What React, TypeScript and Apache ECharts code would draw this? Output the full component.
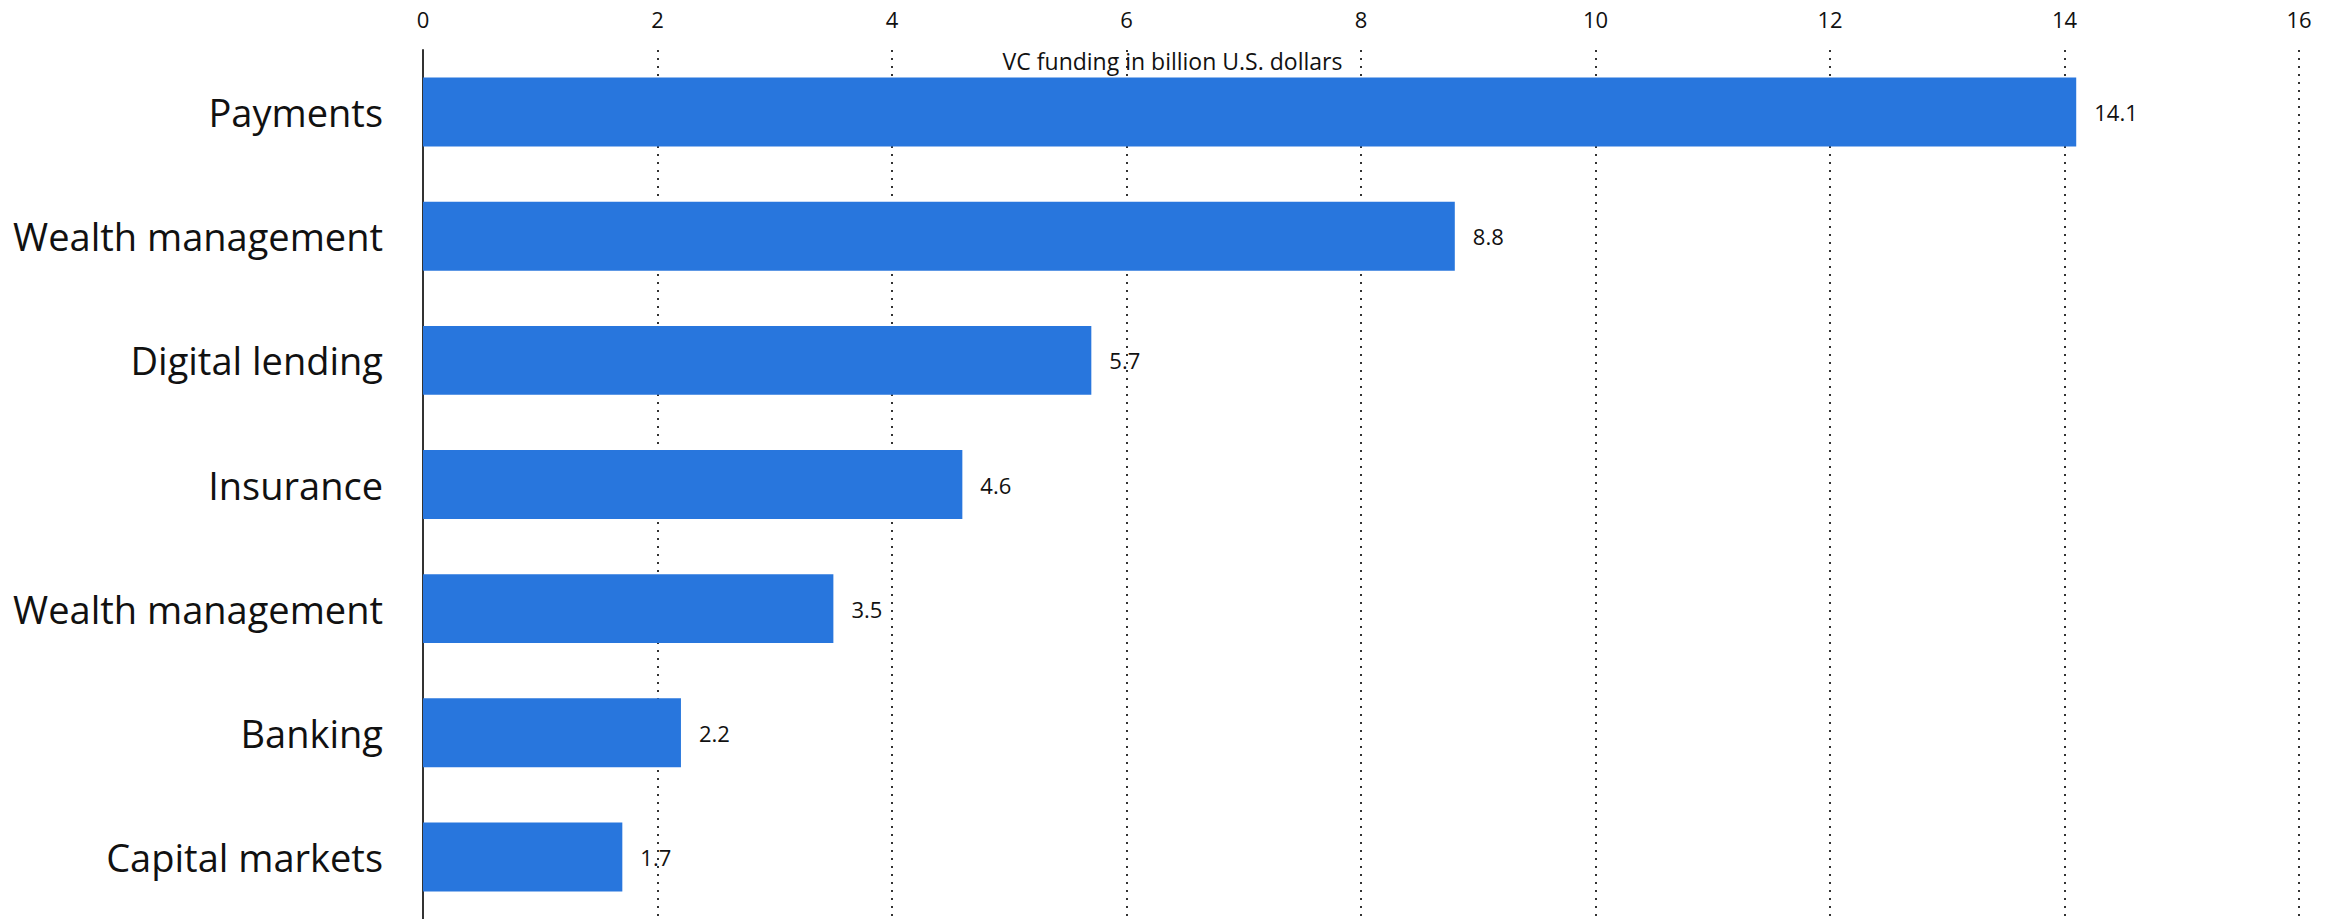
import React, { useEffect, useRef } from "react";
import * as echarts from "echarts";

const categories: string[] = [
  "Payments",
  "Wealth management",
  "Digital lending",
  "Insurance",
  "Wealth management",
  "Banking",
  "Capital markets",
];
const values: number[] = [14.1, 8.8, 5.7, 4.6, 3.5, 2.2, 1.7];
const axisTitle = "VC funding in billion U.S. dollars";
const xMin = 0;
const xMax = 16;
const xInterval = 2;

const FONT = "'Open Sans', 'Noto Sans', sans-serif";

export default function App() {
  const ref = useRef<HTMLDivElement>(null);

  useEffect(() => {
    document.body.style.margin = "0";
    if (!ref.current) return;
    const chart = echarts.init(ref.current, undefined, { renderer: "svg" });
    chart.setOption({
      animation: false,
      backgroundColor: "#ffffff",
      grid: { left: 423, right: 46, top: 50, bottom: 0, containLabel: false },
      graphic: [
        {
          type: "text",
          left: "center",
          top: 49,
          style: {
            text: axisTitle,
            fontSize: 23,
            fontFamily: FONT,
            fill: "#111",
          },
          z: 10,
        },
      ],
      xAxis: {
        type: "value",
        position: "top",
        min: xMin,
        max: xMax,
        interval: xInterval,
        axisLine: { show: false },
        axisTick: { show: false },
        axisLabel: {
          fontSize: 22,
          fontFamily: FONT,
          color: "#111",
          margin: 20,
        },
        splitLine: {
          show: true,
          lineStyle: { type: [2, 6], width: 2, color: "#333" },
        },
      },
      yAxis: {
        type: "category",
        inverse: true,
        data: categories,
        axisLine: { show: true, lineStyle: { color: "#333", width: 2 } },
        axisTick: { show: false },
        axisLabel: {
          fontSize: 38,
          fontFamily: FONT,
          color: "#111",
          margin: 40,
        },
      },
      series: [
        {
          type: "bar",
          data: values,
          barWidth: "55.5%",
          itemStyle: { color: "#2876dd" },
          label: {
            show: true,
            position: "right",
            distance: 18,
            fontSize: 22,
            fontFamily: FONT,
            color: "#111",
          },
          z: 5,
        },
      ],
    });
    return () => chart.dispose();
  }, []);

  return <div ref={ref} style={{ width: 2345, height: 919 }} />;
}
